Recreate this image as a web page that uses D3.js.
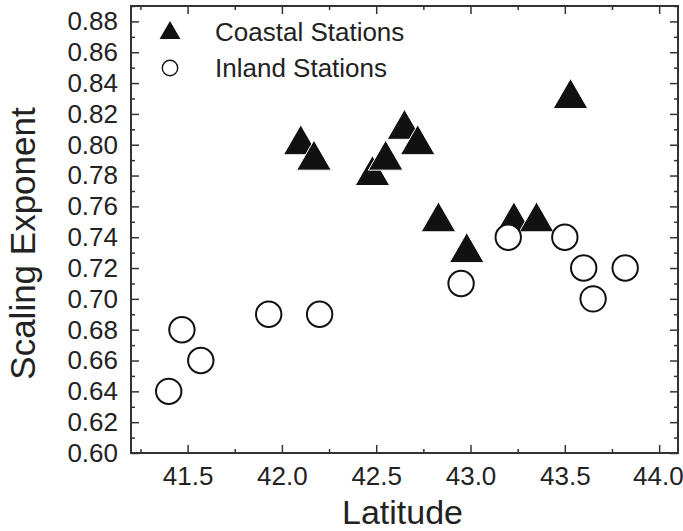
<!DOCTYPE html>
<html>
<head>
<meta charset="utf-8">
<script src="https://cdn.jsdelivr.net/npm/d3@7"></script>
<style>
  body { margin: 0; background: #fff; }
  svg { display: block; font-family: "Liberation Sans", Arial, sans-serif; }
</style>
</head>
<body>
<script>
// coastal stations (filled triangles)
const coastalLat = [42.10, 42.17, 42.48, 42.55, 42.65, 42.72, 42.83, 42.98, 43.23, 43.35, 43.53];
const coastalExp = [0.80, 0.79, 0.78, 0.79, 0.81, 0.80, 0.75, 0.73, 0.75, 0.75, 0.83];
// inland stations (open circles)
const inlandLat = [41.40, 41.47, 41.57, 41.93, 42.20, 42.95, 43.20, 43.50, 43.60, 43.65, 43.82];
const inlandExp = [0.64, 0.68, 0.66, 0.69, 0.69, 0.71, 0.74, 0.74, 0.72, 0.70, 0.72];

const xTicks = [41.5, 42.0, 42.5, 43.0, 43.5, 44.0];
const xMinor = [41.25, 41.75, 42.25, 42.75, 43.25, 43.75];
const yTicks = [0.60, 0.62, 0.64, 0.66, 0.68, 0.70, 0.72, 0.74, 0.76, 0.78, 0.80, 0.82, 0.84, 0.86, 0.88];
const yMinor = [0.61, 0.63, 0.65, 0.67, 0.69, 0.71, 0.73, 0.75, 0.77, 0.79, 0.81, 0.83, 0.85, 0.87, 0.89];
const legendLabels = ["Coastal Stations", "Inland Stations"];

const width = 683, height = 531;
const margin = { top: 6, right: 5, bottom: 78, left: 131 };
const axisColor = "#333";

const svg = d3.select("body").append("svg")
  .attr("width", width)
  .attr("height", height);

// x: latitude, y: scaling exponent
const x = d3.scaleLinear()
  .domain([41.2, 44.1])
  .range([margin.left, width - margin.right]);
const y = d3.scaleLinear()
  .domain([0.60, 0.89])
  .range([height - margin.bottom, margin.top]);

const x0 = x.range()[0], x1 = x.range()[1];
const y0 = y.range()[0], y1 = y.range()[1];

// ticks point inward on all four sides
const styleAxis = g => {
  g.select(".domain").remove();
  g.selectAll(".tick line").attr("stroke", axisColor).attr("stroke-width", 1.5);
  g.selectAll(".tick text").attr("fill", "#222").attr("font-size", 26).attr("font-family", "Liberation Sans, Arial, sans-serif");
};

const xAxisG = svg.append("g")
  .attr("transform", `translate(0,${y0})`)
  .call(d3.axisBottom(x).tickValues(xTicks).tickFormat(d3.format(".1f")).tickSize(-8).tickPadding(14))
  .call(styleAxis);
// last label sits at the window edge, keep it inside
xAxisG.selectAll(".tick text").filter(d => d === 44.0).attr("text-anchor", "end").attr("x", 24);

svg.append("g")
  .attr("transform", `translate(0,${y0})`)
  .call(d3.axisBottom(x).tickValues(xMinor).tickFormat("").tickSize(-4))
  .call(styleAxis);
svg.append("g")
  .attr("transform", `translate(0,${y1})`)
  .call(d3.axisTop(x).tickValues(xTicks).tickFormat("").tickSize(-8))
  .call(styleAxis);
svg.append("g")
  .attr("transform", `translate(0,${y1})`)
  .call(d3.axisTop(x).tickValues(xMinor).tickFormat("").tickSize(-4))
  .call(styleAxis);

svg.append("g")
  .attr("transform", `translate(${x0},0)`)
  .call(d3.axisLeft(y).tickValues(yTicks).tickFormat(d3.format(".2f")).tickSize(-8).tickPadding(13))
  .call(styleAxis);
svg.append("g")
  .attr("transform", `translate(${x0},0)`)
  .call(d3.axisLeft(y).tickValues(yMinor).tickFormat("").tickSize(-4))
  .call(styleAxis);
svg.append("g")
  .attr("transform", `translate(${x1},0)`)
  .call(d3.axisRight(y).tickValues(yTicks).tickFormat("").tickSize(-8))
  .call(styleAxis);
svg.append("g")
  .attr("transform", `translate(${x1},0)`)
  .call(d3.axisRight(y).tickValues(yMinor).tickFormat("").tickSize(-4))
  .call(styleAxis);

// frame
svg.append("rect")
  .attr("x", x0).attr("y", y1)
  .attr("width", x1 - x0).attr("height", y0 - y1)
  .attr("fill", "none")
  .attr("stroke", axisColor)
  .attr("stroke-width", 2);

// axis titles
svg.append("text")
  .attr("x", (x0 + x1) / 2 - 2)
  .attr("y", 524)
  .attr("text-anchor", "middle")
  .attr("font-size", 34)
  .attr("fill", "#222")
  .text("Latitude");
svg.append("text")
  .attr("transform", `translate(35,${(y0 + y1) / 2 + 14}) rotate(-90)`)
  .attr("text-anchor", "middle")
  .attr("font-size", 35)
  .attr("fill", "#222")
  .text("Scaling Exponent");

const coastal = coastalLat.map((d, i) => ({ lat: d, val: coastalExp[i] }));
const inland = inlandLat.map((d, i) => ({ lat: d, val: inlandExp[i] }));

const tri = d3.symbol().type(d3.symbolTriangle).size(520);

svg.append("g")
  .selectAll("path")
  .data(coastal)
  .join("path")
  .attr("transform", d => `translate(${x(d.lat)},${y(d.val)})`)
  .attr("d", tri)
  .attr("fill", "#111")
  .attr("stroke", "#fff")
  .attr("stroke-width", 1);

svg.append("g")
  .selectAll("circle")
  .data(inland)
  .join("circle")
  .attr("cx", d => x(d.lat))
  .attr("cy", d => y(d.val))
  .attr("r", 12.7)
  .attr("fill", "#fff")
  .attr("stroke", "#111")
  .attr("stroke-width", 2);

// legend
const legend = svg.append("g");
legend.append("path")
  .attr("transform", "translate(170,33)")
  .attr("d", d3.symbol().type(d3.symbolTriangle).size(190))
  .attr("fill", "#111");
legend.append("circle")
  .attr("cx", 170).attr("cy", 68).attr("r", 7.7)
  .attr("fill", "#fff").attr("stroke", "#111").attr("stroke-width", 1.4);
legend.selectAll("text")
  .data(legendLabels)
  .join("text")
  .attr("x", 215)
  .attr("y", (d, i) => 41 + i * 36)
  .attr("font-size", 26)
  .attr("fill", "#222")
  .text(d => d);
</script>
</body>
</html>
